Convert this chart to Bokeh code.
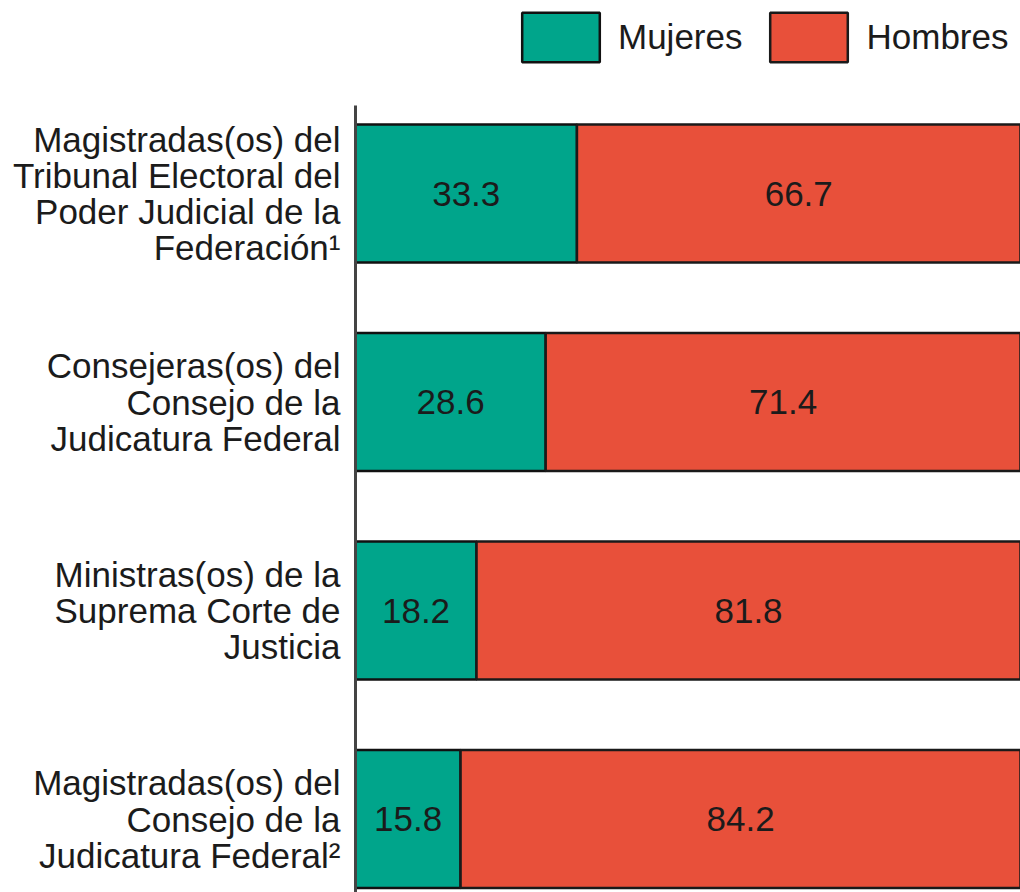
from bokeh.plotting import figure
from bokeh.layouts import column
from bokeh.models import Range1d, FixedTicker, Legend, LegendItem, ColumnDataSource
from bokeh.core.properties import value
from bokeh.embed import file_html
from bokeh.resources import INLINE

categories = [
    "Magistradas(os) del\nTribunal Electoral del\nPoder Judicial de la\nFederación¹",
    "Consejeras(os) del\nConsejo de la\nJudicatura Federal",
    "Ministras(os) de la\nSuprema Corte de\nJusticia",
    "Magistradas(os) del\nConsejo de la\nJudicatura Federal²",
]
mujeres = [33.3, 28.6, 18.2, 15.8]
hombres = [66.7, 71.4, 81.8, 84.2]
series_names = ["Mujeres", "Hombres"]
colors = ["#00a58b", "#e8503a"]

ypos = list(range(len(categories)))
FONT = "Liberation Sans"
TXT = "#1b1b1b"

src = ColumnDataSource(dict(
    y=ypos,
    m=mujeres,
    h_left=mujeres,
    h_right=[a + b for a, b in zip(mujeres, hombres)],
    m_mid=[a / 2 for a in mujeres],
    h_mid=[a + b / 2 for a, b in zip(mujeres, hombres)],
    m_txt=[f"{v:.1f}" for v in mujeres],
    h_txt=[f"{v:.1f}" for v in hombres],
))

# ---- legend strip (top) ----
top = figure(width=1020, height=105, output_backend="svg", toolbar_location=None,
             x_range=Range1d(0, 100), y_range=Range1d(-0.5, 3.5),
             x_axis_type=None, y_axis_type=None, min_border=0)
top.outline_line_color = None
top.xgrid.visible = False
top.ygrid.visible = False
lm = top.hbar(y="y", left=0, right="m", height=0.662, source=src,
              fill_color=colors[0], line_color="#111111", line_width=2.5,
              visible=False)
lh = top.hbar(y="y", left="h_left", right="h_right", height=0.662, source=src,
              fill_color=colors[1], line_color="#1a1a1a", line_width=2.5,
              visible=False)
legend = Legend(items=[LegendItem(label=series_names[0], renderers=[lm]),
                       LegendItem(label=series_names[1], renderers=[lh])],
                orientation="horizontal", location=(157, 37),
                glyph_width=97, glyph_height=62, label_standoff=9, spacing=18,
                padding=0, margin=0, border_line_color=None,
                background_fill_alpha=0, inactive_fill_alpha=0,
                label_text_font=FONT,
                label_text_font_size="35px", label_text_color=TXT)
top.add_layout(legend)

# ---- main chart ----
p = figure(width=1020, height=787, output_backend="svg", toolbar_location=None,
           x_range=Range1d(0, 100), y_range=Range1d(3.352, -0.422),
           x_axis_type=None, min_border_left=355, min_border_top=0,
           min_border_bottom=0, min_border_right=0)
p.outline_line_color = None
p.xgrid.visible = False
p.ygrid.visible = False

p.hbar(y="y", left=0, right="m", height=0.662, source=src,
       fill_color=colors[0], line_color="#111111", line_width=2.5)
p.hbar(y="y", left="h_left", right="h_right", height=0.662, source=src,
       fill_color=colors[1], line_color="#1a1a1a", line_width=2.5)

p.text(x="m_mid", y="y", text="m_txt", source=src, text_align="center",
       text_baseline="middle", text_font=value(FONT), text_font_size="35px",
       text_color=TXT)
p.text(x="h_mid", y="y", text="h_txt", source=src, text_align="center",
       text_baseline="middle", text_font=value(FONT), text_font_size="35px",
       text_color=TXT)

ax = p.yaxis[0]
ax.ticker = FixedTicker(ticks=ypos)
ax.major_label_overrides = {i: c for i, c in zip(ypos, categories)}
ax.major_label_text_font = FONT
ax.major_label_text_font_size = "35px"
ax.major_label_text_color = TXT
ax.major_label_text_line_height = 0.93
ax.major_label_standoff = 15
ax.major_tick_line_color = None
ax.minor_tick_line_color = None
ax.major_tick_out = 0
ax.major_tick_in = 0
ax.axis_line_color = "#444444"
ax.axis_line_width = 3

layout = column(top, p, spacing=0)
open("out.html", "w").write(file_html(layout, INLINE))
